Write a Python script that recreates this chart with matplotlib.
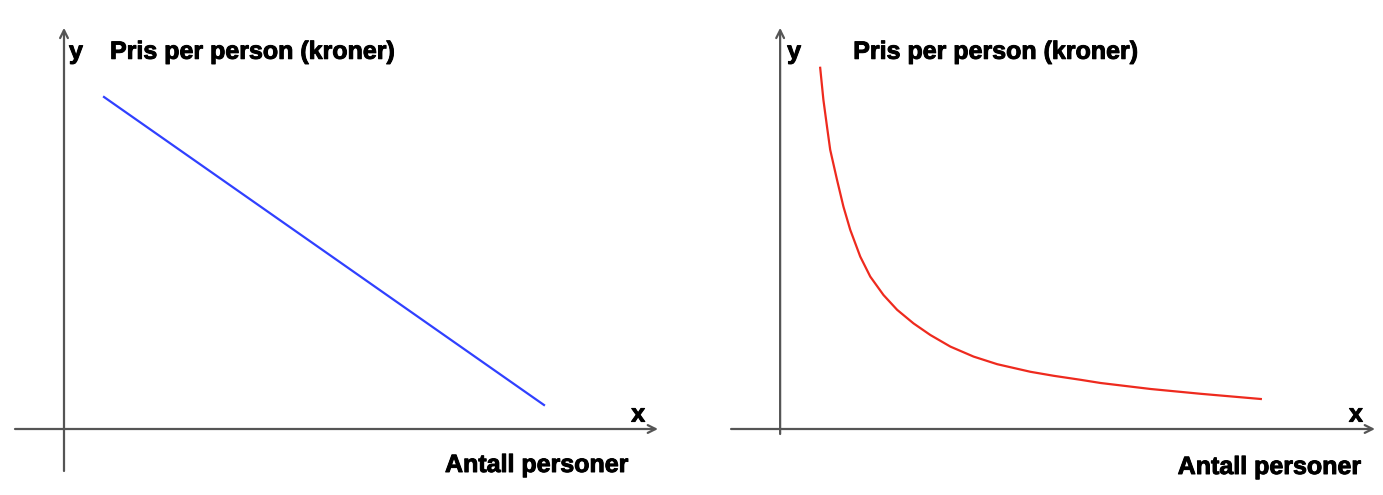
import matplotlib.pyplot as plt
import matplotlib.patheffects as pe

# (1 unit = 40 px, origin where the axes cross)
antall_lin = [1.0, 12.0]
pris_lin = [8.3, 0.6]

antall_hyp = [1.0, 1.08, 1.17, 1.25, 1.42, 1.58, 1.75, 2.0, 2.25, 2.58, 2.92, 3.33,
              3.75, 4.25, 4.83, 5.42, 6.25, 6.83, 7.5, 8.0, 9.25, 10.5, 12.0]
pris_hyp = [9.03, 8.23, 7.56, 6.98, 6.23, 5.56, 4.98, 4.31, 3.81, 3.35, 2.98, 2.64,
            2.35, 2.06, 1.81, 1.62, 1.43, 1.33, 1.23, 1.15, 1.0, 0.88, 0.75]

y_label = 'Pris per person (kroner)'
x_label = 'Antall personer'

plt.rcParams['font.family'] = ['Liberation Sans', 'DejaVu Sans']

W, H = 1383, 495
fig = plt.figure(figsize=(W / 100, H / 100), dpi=100)


def draw_panel(ax, x0, x_lo, y_lo, xs, ys, color, tx):
    """Axes with arrows, one curve and the labels. x0 = pixel of origin in panel."""
    scale = 40.0
    ax.set_xlim(-x0 / scale, (ax_w - x0) / scale)
    ax.set_ylim((429 - H) / scale, 429 / scale)
    ax.axis('off')
    arrow = dict(arrowstyle='->', color='#555555', lw=1.6, shrinkA=0, shrinkB=0,
                 mutation_scale=14)
    ax.annotate('', xy=(14.85, 0), xytext=(x_lo, 0), arrowprops=arrow)
    ax.annotate('', xy=(0, 10.03), xytext=(0, y_lo), arrowprops=arrow)
    ax.plot(xs, ys, color=color, lw=1.6, solid_joinstyle='round')
    kw = dict(fontsize=18, fontweight='bold', va='center', ha='left',
              path_effects=[pe.withStroke(linewidth=0.7, foreground='black')])
    ax.text(tx[0], 9.43, 'y', **kw)
    ax.text(tx[1], 9.43, y_label, **kw)
    ax.text(tx[2], 0.36, 'x', **kw)
    ax.text(tx[3], tx[4], x_label, **kw)


ax_w = 691
ax1 = fig.add_axes([0, 0, ax_w / W, 1])
draw_panel(ax1, 64, -1.225, -1.05, antall_lin, pris_lin, '#3040ff',
           (0.125, 1.15, 14.18, 9.525, -0.9))

ax2 = fig.add_axes([ax_w / W, 0, (W - ax_w) / W, 1])
draw_panel(ax2, 780 - ax_w, -1.225, -0.125, antall_hyp, pris_hyp, '#ee2a1e',
           (0.175, 1.825, 14.2, 9.925, -0.95))

fig.savefig('out.png', dpi=100)
